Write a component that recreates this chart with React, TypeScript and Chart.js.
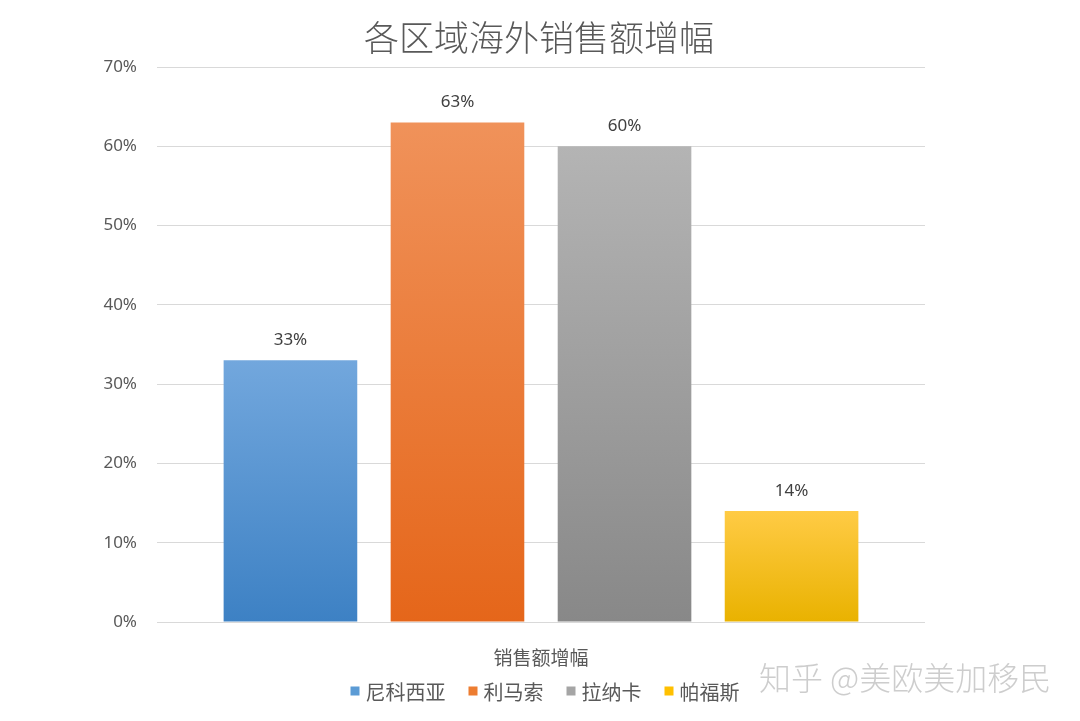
import React, { useEffect, useRef } from 'react';
import { Chart, registerables } from 'chart.js';

Chart.register(...registerables);

const categories = ['销售额增幅'];
const regions = ['尼科西亚', '利马索', '拉纳卡', '帕福斯'];
const growth = [33, 63, 60, 14];
const yTicks = [0, 10, 20, 30, 40, 50, 60, 70];

const topColors = ['#72a7dd', '#f0925a', '#b4b4b4', '#ffcb45'];
const bottomColors = ['#3d81c4', '#e5661a', '#888888', '#e9b200'];
const swatchColors = ['#5b9bd5', '#ed7d31', '#a5a5a5', '#ffc000'];

const CJK = '"Noto Sans CJK SC", "Noto Sans", sans-serif';
const LATIN = '"Noto Sans", "Open Sans", sans-serif';

// титул, подписи над столбцами, легенда и водяной знак
const decorPlugin = {
    id: 'decor',
    afterDraw(chart: Chart) {
        const ctx = chart.ctx;
        ctx.save();

        ctx.fillStyle = '#595959';
        ctx.font = `300 35px ${CJK}`;
        ctx.textAlign = 'center';
        ctx.textBaseline = 'middle';
        ctx.fillText('各区域海外销售额增幅', 539, 38);

        ctx.fillStyle = '#404040';
        ctx.font = `17px ${LATIN}`;
        chart.data.datasets.forEach((ds, i) => {
            const meta = chart.getDatasetMeta(i);
            meta.data.forEach((el: any, j) => {
                ctx.fillText(`${ds.data[j]}%`, el.x, el.y - 20);
            });
        });

        ctx.font = `20px ${CJK}`;
        ctx.textAlign = 'left';
        const sw = 9;
        const gap = 6;
        const itemGap = 23;
        const widths = regions.map((r) => sw + gap + ctx.measureText(r).width);
        const total = widths.reduce((a, b) => a + b, 0) + itemGap * (regions.length - 1);
        let x = 545 - total / 2;
        const ly = 691;
        regions.forEach((r, i) => {
            ctx.fillStyle = swatchColors[i];
            ctx.fillRect(x, ly - sw / 2, sw, sw);
            ctx.fillStyle = '#595959';
            ctx.fillText(r, x + sw + gap, ly + 1);
            x += widths[i] + itemGap;
        });

        ctx.font = `300 32px ${CJK}`;
        ctx.fillStyle = 'rgba(200,200,200,0.9)';
        ctx.fillText('知乎 @美欧美加移民', 759, 678);

        ctx.restore();
    },
};

const App: React.FC = () => {
    const chartRef = useRef<HTMLCanvasElement>(null);
    const chartInstanceRef = useRef<Chart | null>(null);

    useEffect(() => {
        const canvas = chartRef.current;
        if (!canvas) return;

        const datasets = regions.map((name, i) => ({
            label: name,
            data: [growth[i]],
            backgroundColor: (c: any) => {
                const chart = c.chart;
                const yScale = chart.scales?.y;
                if (!chart.chartArea || !yScale) return swatchColors[i];
                const top = yScale.getPixelForValue(growth[i]);
                const bottom = yScale.getPixelForValue(0);
                const g = chart.ctx.createLinearGradient(0, top, 0, bottom);
                g.addColorStop(0, topColors[i]);
                g.addColorStop(1, bottomColors[i]);
                return g;
            },
            borderWidth: 0,
            categoryPercentage: 0.87,
            barPercentage: 0.8,
        }));

        if (chartInstanceRef.current) {
            chartInstanceRef.current.destroy();
        }

        chartInstanceRef.current = new Chart(canvas, {
            type: 'bar',
            data: { labels: categories, datasets },
            options: {
                responsive: false,
                animation: false,
                layout: { padding: { top: 67, right: 155, left: 0, bottom: 0 } },
                plugins: {
                    legend: { display: false },
                    title: { display: false },
                    tooltip: { enabled: false },
                },
                scales: {
                    x: {
                        grid: { display: false },
                        border: { display: false },
                        ticks: {
                            color: '#595959',
                            font: { family: CJK, size: 19 },
                            padding: 16,
                        },
                        afterFit: (scale: any) => {
                            scale.height = 99;
                        },
                    },
                    y: {
                        min: yTicks[0],
                        max: yTicks[yTicks.length - 1],
                        ticks: {
                            stepSize: 10,
                            color: '#595959',
                            font: { family: LATIN, size: 17 },
                            padding: 20,
                            callback: (v: any) => `${v}%`,
                        },
                        grid: { color: '#d9d9d9', lineWidth: 1, drawTicks: false },
                        border: { display: false },
                        afterFit: (scale: any) => {
                            scale.width = 157;
                        },
                    },
                },
            },
            plugins: [decorPlugin],
        });

        return () => {
            if (chartInstanceRef.current) {
                chartInstanceRef.current.destroy();
                chartInstanceRef.current = null;
            }
        };
    }, []);

    return (
        <div style={{ position: 'fixed', left: 0, top: 0, width: 1080, height: 721, background: '#fff' }}>
            <canvas ref={chartRef} width={1080} height={721} style={{ width: '1080px', height: '721px' }} />
        </div>
    );
};

export default App;
